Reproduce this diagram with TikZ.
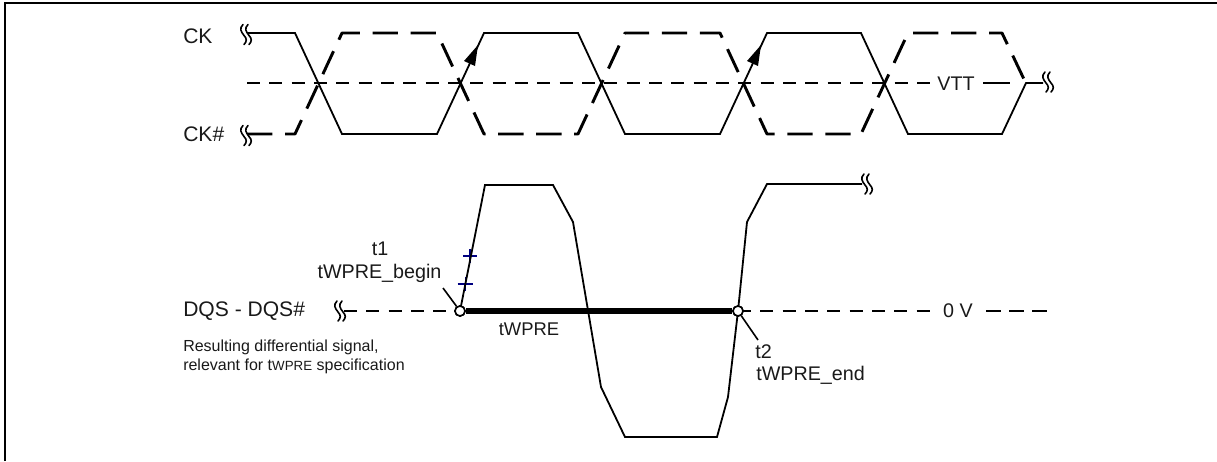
\documentclass[tikz,border=0pt]{standalone}
\usepackage{fontspec}
\setmainfont{Liberation Sans}
\tikzset{
  x=0.75pt,y=-0.75pt,
  sig/.style={line width=1.35pt,line join=miter},
  clkdash/.style={line width=2.2pt,dash pattern=on 19pt off 9.5pt,line join=round},
  refdash/.style={line width=1.4pt,dash pattern=on 9.75pt off 7pt},
  lbl/.style={inner sep=0pt,font=\fontsize{15.8}{18}\selectfont,text=black!90},
  lbltime/.style={inner sep=0pt,font=\fontsize{14.8}{18}\selectfont,text=black!90},
  lblleft/.style={lbl,anchor=west},
  small/.style={inner sep=0pt,anchor=west,font=\fontsize{12}{14}\selectfont,text=black!90},
  ring/.style={circle,draw=black,fill=white,line width=1.2pt,minimum size=7.5pt,inner sep=0pt},
  tick/.style={draw=blue!50!black,line width=1pt},
  tip/.style={fill=black,draw=none},
  brk/.pic={
    \draw[line width=1.2pt,line cap=round] (-3,-10) .. controls (-7,-6) and (-5,-3) .. (-2,1) .. controls (1,4) and (1,7) .. (-2,10);
    \draw[line width=1.2pt,line cap=round] (2,-10) .. controls (-2,-6) and (0,-3) .. (3,1) .. controls (6,4) and (6,7) .. (3,10);
  }
}
\newcommand{\smallcap}[1]{{\fontsize{10}{12}\selectfont #1}}
\begin{document}
\begin{tikzpicture}
\useasboundingbox (0,0) rectangle (1217,461);
% frame
\draw[line width=2pt] (5,461) -- (5,3) -- (1217,3);

% VTT reference
\coordinate (vl) at (247,83);
\coordinate (va) at (930,83);
\coordinate (vb) at (983,83);
\coordinate (vc) at (1010,83);
\draw[refdash] (vl) -- (va);
\draw[line width=1.4pt] (vb) -- (vc);

% CK#
\draw[clkdash] (247,134) -- (295,134) -- (342,33) -- (437,33) -- (484,134) -- (578,134)
  -- (625,33) -- (720,33) -- (767,134) -- (861,134) -- (908,33) -- (1002,33) -- (1026,83.5);
% CK
\draw[sig] (247,33) -- (295,33) -- (342,134) -- (437,134) -- (484,33) -- (578,33)
  -- (625,134) -- (720,134) -- (767,33) -- (861,33) -- (908,134) -- (1002,134) -- (1026,83) -- (1043,83);
% arrowheads on CK
\fill[tip] (478,45) -- (464,61) -- (475,66) -- cycle;
\fill[tip] (761,45) -- (747,61) -- (758,66) -- cycle;

\pic at (246,34.5) {brk};
\pic at (246,135.5) {brk};
\pic at (1048,82) {brk};

\node[lblleft] (ck) at (183,36) {CK};
\node[lblleft] (ckn) at (183,134) {CK\#};
\node[lbltime] (vtt) at (956,84) {VTT};

% DQS - DQS#
\node[ring] (t1) at (460,311) {};
\node[ring] (t2) at (738,311) {};
\coordinate (dl) at (344,311);
\coordinate (d0a) at (931,311);
\coordinate (d0b) at (986,311);
\coordinate (dr) at (1047,311);
\coordinate (l1) at (443,288);
\coordinate (l2) at (758,340);
\draw[refdash] (dl) -- (t1.center);
\draw[refdash] (t2.center) -- (d0a);
\draw[refdash,dash pattern=on 11.25pt off 6pt] (d0b) -- (dr);
\node[lbltime] (zero) at (958,311) {0 V};

\draw[tick] (457.5,284) -- (473,284);
\draw[tick] (465.5,277) -- (465.5,291);
\draw[tick] (463,256) -- (477,256);
\draw[tick] (470,249) -- (470,263);

\draw[sig] (t1.center) -- (485,185) -- (553,185) -- (573,222) -- (601,387) -- (625,437)
  -- (717,437) -- (728,397) -- (738,311) -- (747,222) -- (767,184) -- (862,184);
\draw[line width=4.2pt] (t1) -- (t2);
\node[ring] at (t1) {};
\node[ring] at (t2) {};
\draw[line width=1.2pt] (l1) -- (t1);
\draw[line width=1.2pt] (t2) -- (l2);

\pic at (340,311) {brk};
\pic at (867,184) {brk};

\node[lbltime] (t1a) at (380,249) {t1};
\node[lbltime] (t1b) at (379.5,273) {tWPRE\_begin};
\node[lbltime,anchor=west] (t2a) at (755,352) {t2};
\node[lbltime,anchor=west] (t2b) at (756,375) {tWPRE\_end};
\node[lbltime,font=\fontsize{13.8}{16}\selectfont] (tw) at (529,329) {tWPRE};
\node[lblleft] (dqs) at (183,311) {DQS - DQS\#};
\node[small] (res) at (183,347) {Resulting differential signal,};
\node[small] (rel) at (183,366) {relevant for t\smallcap{WPRE} specification};
\end{tikzpicture}
\end{document}
